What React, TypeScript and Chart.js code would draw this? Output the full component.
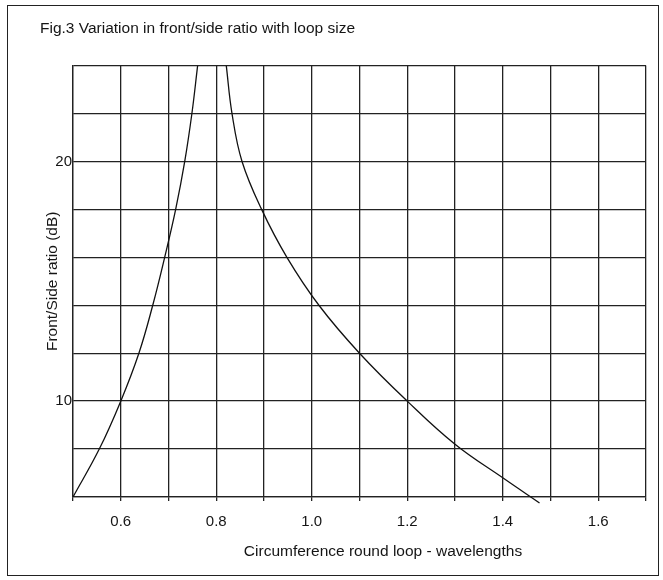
import { useEffect, useRef } from 'react';
import { Chart, registerables } from 'chart.js';

Chart.register(...registerables);

const TITLE = 'Fig.3 Variation in front/side ratio with loop size';
const X_TITLE = 'Circumference round loop - wavelengths';
const Y_TITLE = 'Front/Side ratio (dB)';

const X_MIN = 0.5;
const X_MAX = 1.7;
const X_STEP = 0.1;
const Y_MIN = 6;
const Y_MAX = 24;
const Y_STEP = 2;
const X_LABELS = [0.6, 0.8, 1.0, 1.2, 1.4, 1.6];
const Y_LABELS = [10, 20];

// Branch below resonance (ratio rising)
const lowerX = [0.5, 0.555, 0.6, 0.638, 0.667, 0.692, 0.715, 0.734, 0.749, 0.761];
const lowerY = [6, 8, 10, 12, 14, 16, 18, 20, 22, 24];
// Branch above resonance (ratio falling)
const upperX = [0.821, 0.833, 0.854, 0.895, 0.948, 1.015, 1.1, 1.2, 1.3, 1.4, 1.477];
const upperY = [24, 22, 20, 18, 16, 14, 12, 10, 8.2, 6.8, 5.75];

const FONT = '"Liberation Sans", Arial, sans-serif';
const INK = '#151515';
const GRID = '#222';

const xTitlePlugin = {
  id: 'xTitle',
  afterDraw(chart: any) {
    const { ctx, chartArea } = chart;
    ctx.save();
    ctx.font = `15.5px ${FONT}`;
    ctx.fillStyle = INK;
    ctx.textAlign = 'center';
    ctx.textBaseline = 'middle';
    ctx.fillText(X_TITLE, chartArea.left + 310, chartArea.bottom + 55);
    ctx.restore();
  },
};

export default function App() {
  const ref = useRef<HTMLCanvasElement | null>(null);

  useEffect(() => {
    if (!ref.current) return;
    const toPts = (xs: number[], ys: number[]) => xs.map((x, i) => ({ x, y: ys[i] }));
    const chart = new Chart(ref.current, {
      type: 'line',
      data: {
        datasets: [
          {
            data: toPts(lowerX, lowerY),
            borderColor: '#111',
            borderWidth: 1.3,
            pointRadius: 0,
            tension: 0.4,
            fill: false,
          },
          {
            data: toPts(upperX, upperY),
            borderColor: '#111',
            borderWidth: 1.3,
            pointRadius: 0,
            tension: 0.4,
            fill: false,
            clip: { left: 0, top: 0, right: 0, bottom: 8 },
          },
        ],
      } as any,
      plugins: [xTitlePlugin],
      options: {
        responsive: false,
        animation: false,
        events: [],
        layout: { padding: { left: 40, right: 17, top: 0, bottom: 0 } },
        plugins: {
          legend: { display: false },
          tooltip: { enabled: false },
          title: {
            display: true,
            text: TITLE,
            align: 'start',
            color: INK,
            font: { family: FONT, size: 15.5, weight: 'normal' },
            padding: { top: 19, bottom: 28 },
          },
        },
        scales: {
          x: {
            type: 'linear',
            min: X_MIN,
            max: X_MAX,
            afterFit: (s: any) => {
              s.height = 83;
            },
            ticks: {
              stepSize: X_STEP,
              autoSkip: false,
              maxRotation: 0,
              color: INK,
              padding: 12,
              font: { family: FONT, size: 15 },
              callback: (v: any) =>
                X_LABELS.some((l) => Math.abs(l - Number(v)) < 1e-6) ? Number(v).toFixed(1) : '',
            },
            grid: { color: GRID, lineWidth: 1.3, drawTicks: true, tickLength: 4 },
            border: { color: GRID, width: 1.3 },
          },
          y: {
            type: 'linear',
            min: Y_MIN,
            max: Y_MAX,
            afterFit: (s: any) => {
              s.width = 33;
            },
            ticks: {
              stepSize: Y_STEP,
              autoSkip: false,
              color: INK,
              padding: 1,
              font: { family: FONT, size: 15 },
              callback: (v: any) =>
                Y_LABELS.some((l) => Math.abs(l - Number(v)) < 1e-6) ? String(v) : '',
            },
            title: {
              display: true,
              text: Y_TITLE,
              color: INK,
              font: { family: FONT, size: 15.5 },
              padding: { top: 3, bottom: 0 },
            },
            grid: { color: GRID, lineWidth: 1.3, drawTicks: false },
            border: { color: GRID, width: 1.3 },
          },
        },
      } as any,
    });
    return () => chart.destroy();
  }, []);

  return (
    <div style={{ position: 'fixed', left: 0, top: 0, width: 663, height: 580, background: '#fff' }}>
      <canvas ref={ref} width={663} height={580} style={{ position: 'absolute', left: 0, top: 0 }} />
      <div
        style={{
          position: 'absolute',
          left: 7,
          top: 5,
          width: 650,
          height: 569,
          border: '1.5px solid #222',
          pointerEvents: 'none',
        }}
      />
    </div>
  );
}
